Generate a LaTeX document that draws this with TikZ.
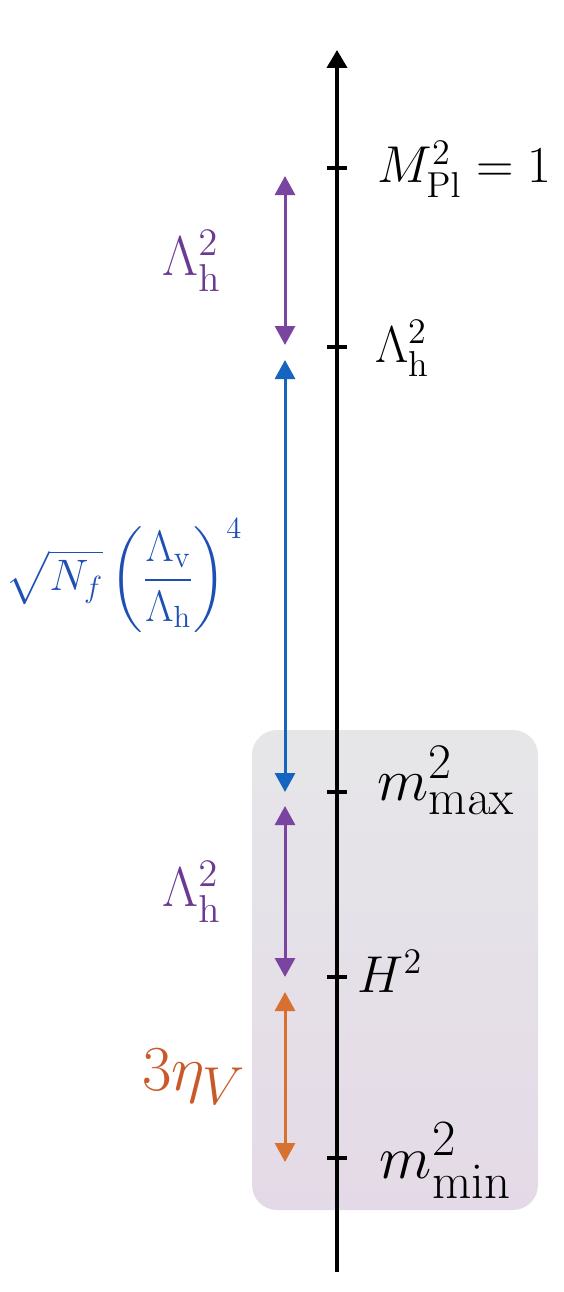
\documentclass[tikz,border=0pt]{standalone}
\usepackage{amsmath}
\usetikzlibrary{positioning,arrows.meta,backgrounds}
\definecolor{hpur}{HTML}{7A45A0}
\definecolor{hpurtxt}{HTML}{6B3A92}
\definecolor{vblue}{HTML}{1565C0}
\definecolor{vbluetxt}{HTML}{1E50B4}
\definecolor{eorg}{HTML}{D8702F}
\definecolor{eorgtxt}{HTML}{C85A2A}
\definecolor{bandtop}{HTML}{E6E6E8}
\definecolor{bandbot}{HTML}{E4DAE7}

\begin{document}
\begin{tikzpicture}[x=0.4pt, y=-0.4pt,
  axis/.style={line width=1.6pt, -{Triangle[length=7.2pt, width=8pt]}},
  tick/.style={line width=1.6pt},
  gap/.style={{Triangle[length=7.6pt, width=8pt]}-{Triangle[length=7.6pt, width=8pt]}, line width=1.2pt},
  lvl/.style={anchor=base west, inner sep=0pt},
  glab/.style={inner sep=0pt, transform shape},
  band/.style={rounded corners=10pt, top color=bandtop, bottom color=bandbot}
]
\useasboundingbox (0,0) rectangle (564,1292);
% shaded region of the low scales
\path[band] (252,730) rectangle (538,1210);
% mass axis
\coordinate (bot) at (337,1272);
\coordinate (top) at (337,50);
\draw[axis] (bot) -- (top);
\foreach \n/\y in {pl/168, lh/347, mx/792, hh/977, mn/1158} {
  \coordinate (\n) at (337,\y);
  \draw[tick] ([xshift=-4pt]\n) -- ([xshift=4pt]\n);
}
% level labels
\node[lvl, font=\huge] (lpl) at ([xshift=16pt, yshift=-6pt]pl) {$M_{\mathrm{Pl}}^2=1$};
\node[lvl, font=\huge] (llh) at ([xshift=15pt, yshift=-6pt]lh) {$\Lambda_{\mathrm{h}}^2$};
\node[lvl, font=\Huge, scale=0.96, transform shape] (lmx) at ([xshift=16pt, yshift=-3.2pt]mx) {$m_{\max}^2$};
\node[lvl, font=\huge] (lhh) at ([xshift=8pt, yshift=-6pt]hh) {$H^2$};
\node[lvl, font=\Huge, scale=0.98, transform shape] (lmn) at ([xshift=17pt, yshift=-8pt]mn) {$m_{\min}^2$};
% gaps between the scales
\coordinate (p1) at (285,176);  \coordinate (p2) at (285,345);
\coordinate (b1) at (285,360);  \coordinate (b2) at (285,792);
\coordinate (q1) at (285,806);  \coordinate (q2) at (285,977);
\coordinate (o1) at (285,992);  \coordinate (o2) at (285,1162);
\draw[gap, hpur] (p1) -- node[glab, midway, left=25pt, text=hpurtxt, font=\huge, scale=1.08] (gp) {$\Lambda_{\mathrm{h}}^2$} (p2);
\draw[gap, vblue] (b1) -- node[glab, midway, left=16.5pt, text=vbluetxt, font=\huge, scale=0.85] (gb) {$\displaystyle\sqrt{N_f}\left(\frac{\Lambda_{\mathrm{v}}}{\Lambda_{\mathrm{h}}}\right)^4$} (b2);
\draw[gap, hpur] (q1) -- node[glab, midway, left=25pt, text=hpurtxt, font=\huge, scale=1.08] (gq) {$\Lambda_{\mathrm{h}}^2$} (q2);
\draw[gap, eorg] (o1) -- node[glab, midway, left=15pt, text=eorgtxt, font=\Huge, scale=1.03] (go) {$3\eta_V$} (o2);
\end{tikzpicture}
\end{document}
